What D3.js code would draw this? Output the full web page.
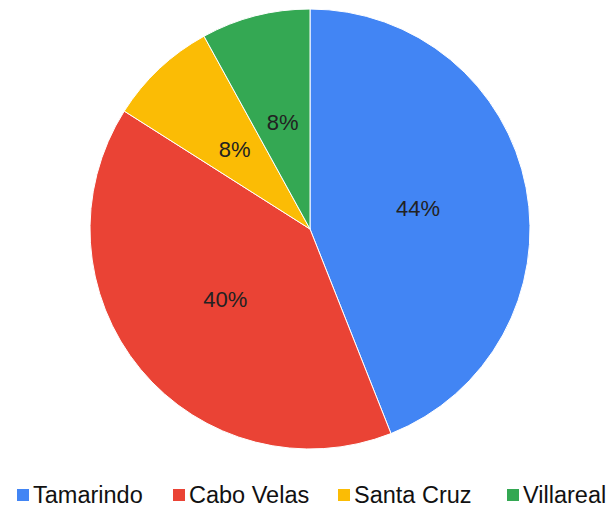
<!DOCTYPE html>
<html>
<head>
<meta charset="utf-8">
<script src="https://cdn.jsdelivr.net/npm/d3@7"></script>
<style>
  body { margin: 0; background: #fff; }
  svg { display: block; font-family: Arial, "Liberation Sans", sans-serif; }
</style>
</head>
<body>
<svg id="chart" width="608" height="509"></svg>
<script>
const categories = ["Tamarindo", "Cabo Velas", "Santa Cruz", "Villareal"];
const values = [44, 40, 8, 8];
const colors = ["#4285f4", "#ea4335", "#fbbc05", "#34a853"];
const legendX = [17, 173, 338, 507];

const width = 608, height = 509;
const cx = 310, cy = 229, radius = 220;

const svg = d3.select("#chart");

const data = categories.map((c, i) => ({ name: c, value: values[i], color: colors[i] }));
const total = d3.sum(values);

const pie = d3.pie().value(d => d.value).sort(null);
const arc = d3.arc().innerRadius(0).outerRadius(radius);
const labelArc = d3.arc().innerRadius(radius * 0.5).outerRadius(radius * 0.5);

const g = svg.append("g").attr("transform", `translate(${cx},${cy})`);

const slices = g.selectAll("g.slice")
  .data(pie(data))
  .join("g")
  .attr("class", "slice");

slices.append("path")
  .attr("d", arc)
  .attr("fill", d => d.data.color)
  .attr("stroke", "#fff")
  .attr("stroke-width", 1);

slices.append("text")
  .attr("transform", d => `translate(${labelArc.centroid(d)})`)
  .attr("text-anchor", "middle")
  .attr("dy", "0.36em")
  .attr("font-size", 22)
  .attr("fill", "#222")
  .text(d => Math.round(d.data.value / total * 100) + "%");

// legend
const legend = svg.append("g").attr("class", "legend");
const items = legend.selectAll("g")
  .data(data)
  .join("g")
  .attr("transform", (d, i) => `translate(${legendX[i]},489)`);

items.append("rect")
  .attr("width", 12)
  .attr("height", 12)
  .attr("fill", d => d.color);

items.append("text")
  .attr("x", 16)
  .attr("y", 14)
  .attr("font-size", 23.5)
  .attr("fill", "#111")
  .text(d => d.name);
</script>
</body>
</html>
